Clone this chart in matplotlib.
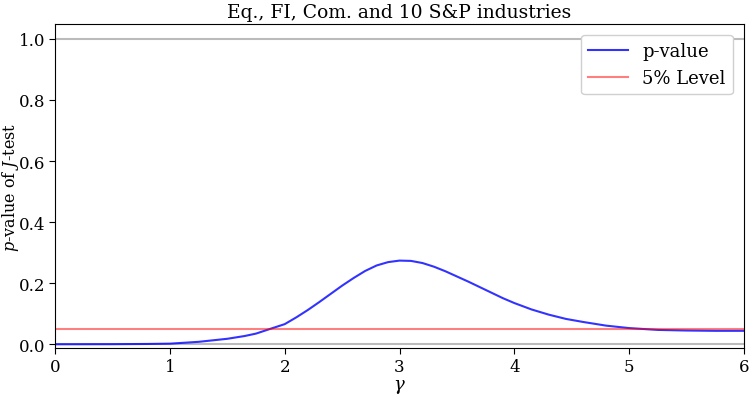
import matplotlib
matplotlib.use("Agg")
import matplotlib.pyplot as plt

plt.rcParams['font.family'] = ['DejaVu Serif']
plt.rcParams['mathtext.fontset'] = 'dejavuserif'

# values
gamma = [0.0, 0.5, 0.8, 1.0, 1.25, 1.5, 1.65, 1.75, 1.87, 2.0, 2.1, 2.2, 2.3, 2.4,
         2.5, 2.6, 2.7, 2.8, 2.9, 3.0, 3.1, 3.2, 3.3, 3.4, 3.5, 3.6, 3.7, 3.8,
         3.9, 4.0, 4.15, 4.3, 4.45, 4.6, 4.8, 5.0, 5.25, 5.5, 5.75, 6.0]
pval = [0.0, 0.0003, 0.001, 0.002, 0.008, 0.018, 0.027, 0.035, 0.05, 0.066, 0.088,
        0.112, 0.138, 0.165, 0.192, 0.217, 0.240, 0.258, 0.269, 0.274, 0.273, 0.266,
        0.254, 0.239, 0.222, 0.205, 0.187, 0.169, 0.151, 0.135, 0.114, 0.097, 0.083,
        0.073, 0.061, 0.053, 0.047, 0.045, 0.044, 0.044]
level = 0.05

fig, ax = plt.subplots(figsize=(7.56, 4.02), dpi=100)
fig.subplots_adjust(left=0.073, right=0.984, top=0.938, bottom=0.132)

ax.axhline(0, color='#bbbbbb', lw=1.5)
ax.axhline(1, color='#bbbbbb', lw=1.5)
ax.plot(gamma, pval, color='blue', alpha=0.8, lw=1.5, label='p-value')
ax.plot([gamma[0], gamma[-1]], [level, level], color='red', alpha=0.5, lw=1.5, label='5% Level')

ax.set_xlim(0, 6)
ax.set_ylim(-0.012, 1.049)
ax.set_xticks([0, 1, 2, 3, 4, 5, 6])
ax.set_yticks([0.0, 0.2, 0.4, 0.6, 0.8, 1.0])
ax.tick_params(labelsize=12, length=4, pad=3)

ax.set_xlabel(r'$\gamma$', fontsize=13, labelpad=2)
ax.set_ylabel(r'$p$-value of $J$-test', fontsize=11.5)
ax.yaxis.set_label_coords(-0.049, 0.5)
ax.set_title('Eq., FI, Com. and 10 S&P industries', fontsize=13.5, pad=5)

ax.legend(loc='upper right', fontsize=13, handlelength=2.2, framealpha=1,
          edgecolor='#d0d0d0', borderaxespad=0.6)

plt.savefig('out.png', dpi=100)
